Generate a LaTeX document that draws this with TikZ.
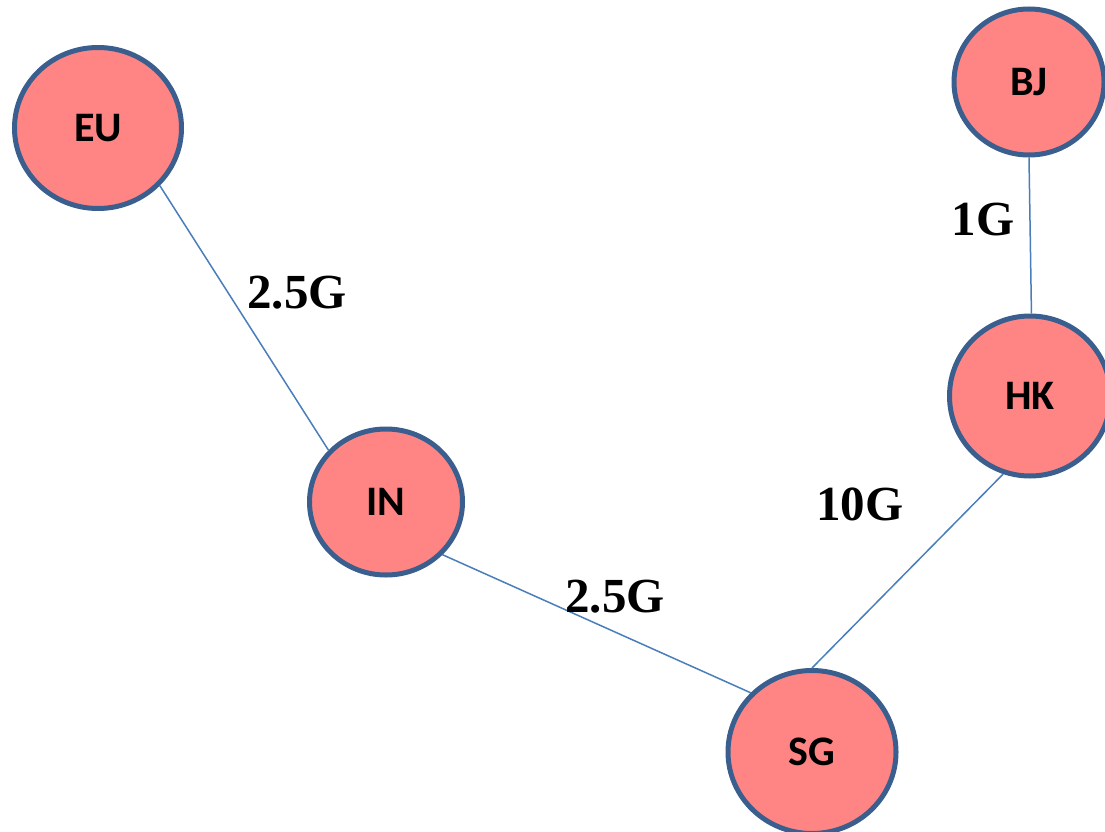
\documentclass[tikz,border=0pt]{standalone}
\usepackage{fontspec}
\setmainfont{Liberation Serif}
\newfontfamily\nodefont{Carlito}
\usetikzlibrary{shapes.geometric}
\definecolor{nodefill}{HTML}{FF8585}
\definecolor{nodeline}{HTML}{3A5F8E}
\definecolor{edgeline}{HTML}{4A7EBB}
\tikzset{
  city/.style={ellipse, draw=nodeline, fill=nodefill, line width=5pt, inner sep=0pt,
    font=\nodefont\bfseries\fontsize{42}{50}\selectfont, text height=27pt, text depth=0pt},
  link/.style={draw=edgeline, line width=1.5pt},
  rate/.style={anchor=base, inner sep=0pt, font=\bfseries\fontsize{49}{56}\selectfont}
}
\begin{document}
\begin{tikzpicture}[x=1pt,y=-1pt]
\fill[white] (0,0) rectangle (1105,832);
\useasboundingbox (0,0) rectangle (1105,832);
\node[city, minimum width=167pt, minimum height=161pt] (EU) at (98,128) {EU};
\node[city, minimum width=150pt, minimum height=146pt] (BJ) at (1029,82) {BJ};
\node[city, minimum width=161pt, minimum height=160pt] (HK) at (1030,396) {HK};
\node[city, minimum width=153pt, minimum height=146pt] (IN) at (386,502) {IN};
\node[city, minimum width=168pt, minimum height=163pt] (SG) at (812,752) {SG};
\draw[link] (EU.-43) -- (IN.138);
\draw[link] (IN.-43) -- (SG.136);
\draw[link] (HK.-109) -- (SG.90);
\draw[link] (BJ.270) -- (HK.89);
\node[rate] (l1) at (297,308) {2.5G};
\node[rate] (l2) at (615,612) {2.5G};
\node[rate] (l3) at (860,520) {10G};
\node[rate] (l4) at (983,235) {1G};
\end{tikzpicture}
\end{document}
